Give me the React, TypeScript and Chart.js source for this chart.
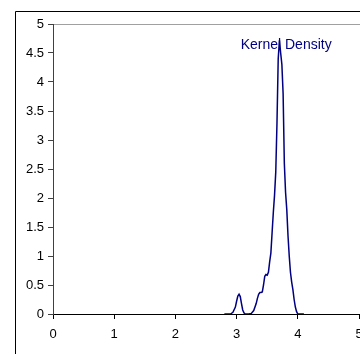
import React, { useEffect, useRef } from "react";
import { Chart, registerables } from "chart.js";

Chart.register(...registerables);

const xValues = [2.8, 2.9, 2.94, 2.98, 3.0, 3.02, 3.04, 3.06, 3.08, 3.1, 3.12, 3.14, 3.2, 3.24, 3.28, 3.32, 3.34, 3.36, 3.38, 3.4, 3.42, 3.44, 3.46, 3.48, 3.5, 3.52, 3.54, 3.56, 3.58, 3.6, 3.62, 3.64, 3.66, 3.68, 3.7, 3.72, 3.74, 3.76, 3.78, 3.8, 3.82, 3.84, 3.86, 3.88, 3.9, 3.92, 3.94, 3.96, 3.98, 4.0, 4.1];
const densityValues = [0, 0, 0.03, 0.12, 0.22, 0.31, 0.34, 0.3, 0.18, 0.07, 0.02, 0, 0, 0.01, 0.06, 0.18, 0.27, 0.34, 0.37, 0.37, 0.38, 0.5, 0.65, 0.68, 0.67, 0.72, 0.9, 1.05, 1.4, 1.75, 2.05, 2.45, 3.3, 4.4, 4.72, 4.5, 4.3, 3.8, 2.6, 2.1, 1.8, 1.35, 1.0, 0.72, 0.55, 0.42, 0.25, 0.12, 0.04, 0, 0];
const seriesLabel = "Kernel Density";
const xTicks = [0, 1, 2, 3, 4, 5];
const yTicks = [0, 0.5, 1, 1.5, 2, 2.5, 3, 3.5, 4, 4.5, 5];

const FONT = "'Liberation Sans', Arial, sans-serif";

export default function App() {
  const ref = useRef<HTMLCanvasElement | null>(null);
  useEffect(() => {
    if (!ref.current) return;
    const framePlugin = {
      id: "frame",
      beforeDraw(chart: any) {
        const ctx = chart.ctx;
        const a = chart.chartArea;
        ctx.save();
        ctx.strokeStyle = "#000";
        ctx.lineWidth = 1;
        ctx.beginPath();
        ctx.moveTo(15.5, 400);
        ctx.lineTo(15.5, 11.5);
        ctx.lineTo(400, 11.5);
        ctx.stroke();
        ctx.strokeStyle = "#a0a0a0";
        ctx.beginPath();
        ctx.moveTo(a.left, a.top + 0.5);
        ctx.lineTo(400, a.top + 0.5);
        ctx.stroke();
        ctx.restore();
      },
      afterDatasetsDraw(chart: any) {
        const ctx = chart.ctx;
        const xs = chart.scales.x;
        const ys = chart.scales.y;
        ctx.save();
        ctx.fillStyle = "#000080";
        ctx.font = "14px " + FONT;
        ctx.textAlign = "center";
        ctx.textBaseline = "middle";
        ctx.fillText(seriesLabel, xs.getPixelForValue(3.81), ys.getPixelForValue(4.64));
        ctx.restore();
      },
    };
    const chart = new Chart(ref.current, {
      type: "line",
      data: {
        datasets: [
          {
            label: seriesLabel,
            data: xValues.map((x, i) => ({ x, y: densityValues[i] })),
            borderColor: "#000080",
            borderWidth: 1.5,
            pointRadius: 0,
            tension: 0,
            fill: false,
          },
        ],
      },
      options: {
        animation: false,
        responsive: false,
        layout: { padding: { top: 24, left: 0, right: 1, bottom: 0 } },
        plugins: { legend: { display: false }, tooltip: { enabled: false } },
        scales: {
          x: {
            type: "linear",
            min: 0,
            max: 5,
            afterBuildTicks: (s: any) => {
              s.ticks = xTicks.map((v) => ({ value: v }));
            },
            afterFit: (s: any) => {
              s.height = 40;
              s.paddingLeft = 0;
              s.paddingRight = 0;
            },
            grid: { drawOnChartArea: false, tickLength: 5, color: "#000" },
            border: { color: "#000", width: 1 },
            ticks: { color: "#000", font: { family: FONT, size: 13 }, padding: 8, maxRotation: 0, callback: (v: any) => String(v) },
          },
          y: {
            type: "linear",
            min: 0,
            max: 5,
            afterBuildTicks: (s: any) => {
              s.ticks = yTicks.map((v) => ({ value: v }));
            },
            afterFit: (s: any) => {
              s.width = 53;
            },
            grid: { drawOnChartArea: false, tickLength: 5, color: "#404040" },
            border: { color: "#404040", width: 1 },
            ticks: { color: "#000", font: { family: FONT, size: 13 }, padding: 4, callback: (v: any) => String(v) },
          },
        },
      },
      plugins: [framePlugin],
    });
    return () => chart.destroy();
  }, []);
  return (
    <div style={{ position: "fixed", left: 0, top: 0, width: 360, height: 354, background: "#fff" }}>
      <canvas ref={ref} width={360} height={354} style={{ width: 360, height: 354, display: "block" }} />
    </div>
  );
}
